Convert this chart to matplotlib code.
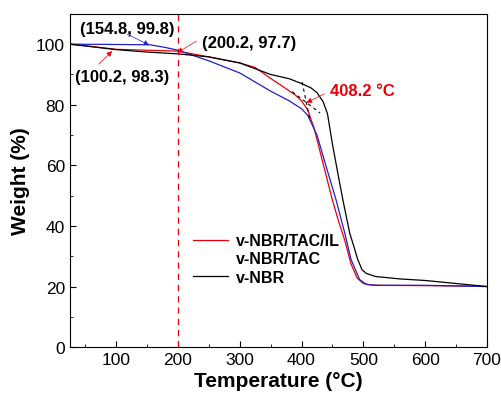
import matplotlib.pyplot as plt

plt.rcParams['font.family'] = ['Liberation Sans', 'DejaVu Sans']

# v-NBR/TAC/IL (red)
t_il = [25, 50, 100, 150, 200, 250, 300, 325, 350, 375, 390, 400, 410, 420, 430,
        440, 450, 460, 470, 480, 490, 500, 510, 525, 600, 650, 700]
w_il = [100, 99.5, 98.3, 98.0, 97.7, 95.8, 93.8, 92.3, 88.7, 85.3, 83.2, 81.3, 78.3, 72.5, 64.5,
        56.5, 48.5, 41.5, 35.2, 27.5, 22.8, 21.0, 20.6, 20.4, 20.3, 20.2, 20.0]

# v-NBR/TAC (blue)
t_tac = [25, 100, 154.8, 180, 200, 250, 300, 350, 380, 400, 410, 425, 440, 456,
         470, 480, 494, 505, 520, 600, 700]
w_tac = [100, 99.9, 99.8, 98.9, 98.0, 94.5, 90.5, 84.5, 81.3, 78.7, 76.5, 70, 59.5, 48.5,
         37.6, 29, 22.3, 20.7, 20.4, 20.4, 20.0]

# v-NBR (black)
t_nbr = [25, 50, 100, 150, 200, 250, 300, 350, 380, 400, 415, 425, 435, 442, 450,
         460, 467, 478, 485, 491, 498, 505, 520, 560, 600, 650, 700]
w_nbr = [100, 99.4, 98.2, 97.4, 96.8, 95.8, 93.8, 90, 88.6, 87, 85.6, 84, 81, 77, 67,
         56, 48.5, 37.6, 33, 28.9, 25.5, 24.3, 23.3, 22.5, 22.0, 21.0, 20.0]

RED = '#e8000b'
BLUE = '#1f1fd0'

fig = plt.figure(figsize=(5.02, 4.02), dpi=100)
ax = fig.add_axes([0.139, 0.134, 0.831, 0.829])

l1, = ax.plot(t_il, w_il, color=RED, lw=0.9, label='v-NBR/TAC/IL')
l2, = ax.plot(t_tac, w_tac, color=BLUE, lw=0.9, label='v-NBR/TAC')
l3, = ax.plot(t_nbr, w_nbr, color='black', lw=0.9, label='v-NBR')

ax.axvline(200, color=RED, ls=(0, (5, 4)), lw=0.9)

# onset tangents
ax.plot([385, 430], [84.3, 77.3], color='black', ls=(0, (3, 3)), lw=0.8)
ax.plot([401, 413], [87.5, 75.5], color='black', ls=(0, (3, 3)), lw=0.8)


def arrow(head, tail, color):
    ax.annotate('', xy=head, xytext=tail,
                arrowprops=dict(arrowstyle='-|>', color=color, lw=0.5,
                                shrinkA=0, shrinkB=0, mutation_scale=8))


arrow((153.5, 99.7), (118, 103.3), BLUE)
arrow((199, 97.2), (230, 101), RED)
arrow((93.5, 97.7), (72, 93.4), RED)
arrow((408, 80.7), (437, 83.6), RED)

bold = dict(fontsize=12, fontweight='bold', ha='center', va='center')
ax.text(118, 105.3, '(154.8, 99.8)', **bold)
ax.text(315.6, 100.4, '(200.2, 97.7)', **bold)
ax.text(109.7, 89.4, '(100.2, 98.3)', **bold)
ax.text(498.7, 84.7, '408.2 °C', color=RED, **bold)

ax.set_xlim(25, 700)
ax.set_ylim(0, 110)
ax.set_xticks([100, 200, 300, 400, 500, 600, 700])
ax.set_xticks([50, 150, 250, 350, 450, 550, 650], minor=True)
ax.set_yticks([0, 20, 40, 60, 80, 100])
ax.set_yticks([10, 30, 50, 70, 90], minor=True)
ax.tick_params(which='both', direction='in', labelsize=12.5)
ax.tick_params(which='major', length=4)
ax.tick_params(which='minor', length=2)

ax.set_xlabel('Temperature (°C)', fontsize=15, fontweight='bold', labelpad=3)
ax.set_ylabel('Weight (%)', fontsize=15, fontweight='bold', labelpad=4)

leg = ax.legend(handles=[l1, l2, l3], loc='upper left', bbox_to_anchor=(0.26, 0.385),
                frameon=False, prop={'weight': 'bold', 'size': 11.5},
                handlelength=2.2, labelspacing=0.2, handletextpad=0.5)
leg.legend_handles[1].set_visible(False)

fig.savefig('out.png', dpi=100)
